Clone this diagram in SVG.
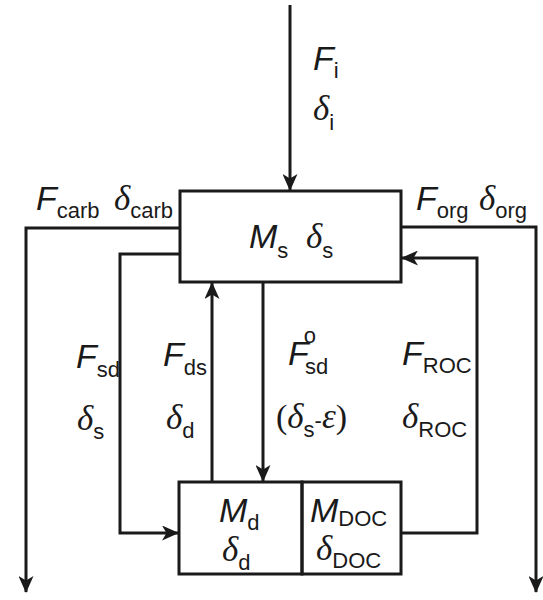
<svg xmlns="http://www.w3.org/2000/svg" width="543" height="600" viewBox="0 0 543 600">
<style>
.box{fill:none;stroke:#1a1a1a;stroke-width:3}
.ln{fill:none;stroke:#1a1a1a;stroke-width:3}
.t{font-family:"Liberation Sans",Arial,sans-serif;font-size:34px;font-style:italic;fill:#1a1a1a}
.g{font-family:"Liberation Serif","Times New Roman",serif;font-size:35px;font-style:italic;fill:#1a1a1a}
.s{font-family:"Liberation Sans",Arial,sans-serif;font-size:22px;font-style:normal;fill:#1a1a1a}
.p{font-family:"Liberation Serif","Times New Roman",serif;font-size:34px;font-style:normal;fill:#1a1a1a}
</style>
<defs>
<marker id="ah" viewBox="0 0 17 15" refX="16" refY="7.5" markerWidth="17" markerHeight="15" markerUnits="userSpaceOnUse" orient="auto">
<path d="M0,0 L17,7.5 L0,15 L4.5,7.5 Z" fill="#1a1a1a"/>
</marker>
</defs>
<g id="connectors">
<line class="ln" x1="290" y1="5" x2="290" y2="190" marker-end="url(#ah)"/>
<polyline class="ln" points="180,228 26,228 26,592" marker-end="url(#ah)"/>
<polyline class="ln" points="401,227 536,227 536,592" marker-end="url(#ah)"/>
<polyline class="ln" points="180,254 120,254 120,533 178,533" marker-end="url(#ah)"/>
<line class="ln" x1="212" y1="482" x2="212" y2="283" marker-end="url(#ah)"/>
<line class="ln" x1="263" y1="282" x2="263" y2="481" marker-end="url(#ah)"/>
<polyline class="ln" points="402,533 477,533 477,258 402,258" marker-end="url(#ah)"/>
</g>
<g id="surface">
<rect class="box" x="180" y="191" width="221" height="91"/>
<text class="t" x="249" y="248">M<tspan class="s" dy="10">s</tspan></text>
<text class="g" x="306" y="248">δ<tspan class="s" dy="10">s</tspan></text>
</g>
<g id="deep">
<rect class="box" x="179" y="482" width="123" height="92"/>
<text class="t" x="219" y="522">M<tspan class="s" dy="8">d</tspan></text>
<text class="g" x="222" y="561">δ<tspan class="s" dy="9">d</tspan></text>
</g>
<g id="doc">
<rect class="box" x="302" y="482" width="99" height="92"/>
<text class="t" x="310" y="522">M<tspan class="s" dy="4">DOC</tspan></text>
<text class="g" x="316" y="560">δ<tspan class="s" dy="8">DOC</tspan></text>
</g>
<g id="labels">
<text class="t" x="313" y="70">F<tspan class="s" dy="8">i</tspan></text>
<text class="g" x="313" y="120">δ<tspan class="s" dy="10">i</tspan></text>
<text class="t" x="36" y="210">F<tspan class="s" dy="8">carb</tspan></text>
<text class="g" x="114" y="210">δ<tspan class="s" dy="8">carb</tspan></text>
<text class="t" x="416" y="210">F<tspan class="s" dy="8">org</tspan></text>
<text class="g" x="479" y="210">δ<tspan class="s" dy="8">org</tspan></text>
<text class="t" x="76" y="368">F<tspan class="s" dy="9">sd</tspan></text>
<text class="g" x="77" y="430">δ<tspan class="s" dy="9">s</tspan></text>
<text class="t" x="163" y="366">F<tspan class="s" dy="9">ds</tspan></text>
<text class="g" x="166" y="429">δ<tspan class="s" dy="9">d</tspan></text>
<text class="t" x="288" y="365">F<tspan class="s" dx="-5" dy="-22">o</tspan><tspan class="s" dx="-11" dy="31">sd</tspan></text>
<text class="p" x="276" y="428">(<tspan class="g">δ</tspan><tspan class="s" dy="9">s</tspan><tspan dy="-9" style="font-family:'Liberation Sans',sans-serif;font-size:22px">-</tspan><tspan class="g">ε</tspan>)</text>
<text class="t" x="402" y="365">F<tspan class="s" dy="8">ROC</tspan></text>
<text class="g" x="402" y="428">δ<tspan class="s" dy="9">ROC</tspan></text>
</g>
</svg>
